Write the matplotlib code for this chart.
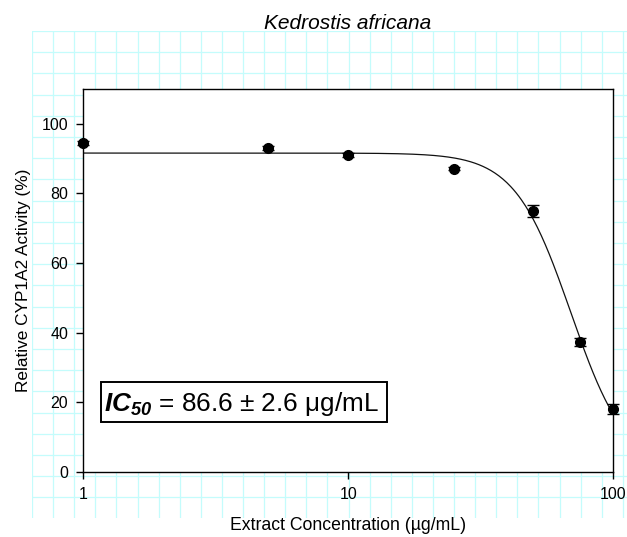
import numpy as np
import matplotlib
matplotlib.use("Agg")
import matplotlib.pyplot as plt
from matplotlib.patches import Rectangle

plt.rcParams['font.family'] = ['Liberation Sans', 'DejaVu Sans']
plt.rcParams['mathtext.fontset'] = 'custom'
plt.rcParams['mathtext.rm'] = 'Liberation Sans'
plt.rcParams['mathtext.it'] = 'Liberation Sans:italic'
plt.rcParams['mathtext.bf'] = 'Liberation Sans:bold'
plt.rcParams['mathtext.bfit'] = 'Liberation Sans:italic:bold'

# ---- data ----
title = "Kedrostis africana"
xlabel = "Extract Concentration (µg/mL)"
ylabel = "Relative CYP1A2 Activity (%)"
conc = [1, 5, 10, 25, 50, 75, 100]
activity = [94.4, 93.1, 91.1, 87.1, 75.0, 37.4, 18.1]
sem = [0.6, 0.6, 0.5, 0.5, 1.7, 1.1, 1.4]
# fitted sigmoid parameters (top, bottom, midpoint, Hill slope)
fit_top, fit_bottom, fit_mid, fit_hill = 91.6, 0.0, 69.3, 4.1
xticks = [1, 10, 100]
xticklabels = ["1", "10", "100"]
yticks = [0, 20, 40, 60, 80, 100]
ic50_label = r"$\mathbfit{IC}_{\mathbfit{50}}$ = 86.6 ± 2.6 μg/mL"

W, H = 627, 537
fig = plt.figure(figsize=(W / 100, H / 100), dpi=100)

# background cyan grid (decorative, in pixel units)
bg = fig.add_axes([32 / W, (H - 518) / H, (W - 32) / W, (518 - 31) / H], zorder=0)
bg.set_xlim(0, W - 32)
bg.set_ylim(518 - 31, 0)
bg.axis('off')
gcol = '#c4fcfc'
for k in range(0, 30):
    bg.axvline(k * 21.1, color=gcol, lw=0.9)
for k in range(0, 23):
    bg.axhline(k * 21.2, color=gcol, lw=0.9)

AX_L, AX_R, AX_T, AX_B = 83.3, 613, 89, 472
ax = fig.add_axes([AX_L / W, (H - AX_B) / H, (AX_R - AX_L) / W, (AX_B - AX_T) / H], zorder=1)
ax.set_facecolor('white')
ax.set_xscale('log')
ax.set_xlim(1, 100)
ax.set_ylim(0, 110)

xs = np.logspace(0, 2, 400)
ys = fit_bottom + (fit_top - fit_bottom) / (1 + (xs / fit_mid) ** fit_hill)
ax.plot(xs, ys, color='#111111', lw=0.9, zorder=2)

ax.errorbar(conc, activity, yerr=sem, fmt='o', color='black', ms=7,
            ecolor='black', elinewidth=1, capsize=4, capthick=1,
            clip_on=False, zorder=3)

ax.set_xticks(xticks)
ax.set_xticklabels(xticklabels)
ax.xaxis.set_minor_locator(matplotlib.ticker.NullLocator())
ax.set_yticks(yticks)
ax.tick_params(axis='both', direction='out', length=5, width=1, labelsize=11.5)
ax.tick_params(axis='x', pad=6)
ax.tick_params(axis='y', pad=6)
for s in ax.spines.values():
    s.set_linewidth(1)

fig.text(348 / W, 1 - 23.5 / H, title, ha='center', va='center',
         fontsize=15, style='italic')
fig.text(348 / W, 1 - 525 / H, xlabel, ha='center', va='center', fontsize=12.7)
fig.text(24 / W, 1 - 280 / H, ylabel, ha='center', va='center',
         fontsize=12.4, rotation=90)

# IC50 annotation box (pixel placement converted to axes fraction)
def fx(px):
    return (px - AX_L) / (AX_R - AX_L)

def fy(py):
    return (AX_B - py) / (AX_B - AX_T)

ax.add_patch(Rectangle((fx(100.7), fy(421.7)), fx(387.3) - fx(100.7),
                       fy(381.7) - fy(421.7), transform=ax.transAxes,
                       fc='white', ec='black', lw=1.4, zorder=4))
ax.text(fx(104), fy(410.7), ic50_label, transform=ax.transAxes, ha='left',
        va='baseline', fontsize=18.8, zorder=5)

fig.savefig('out.png', dpi=100)
